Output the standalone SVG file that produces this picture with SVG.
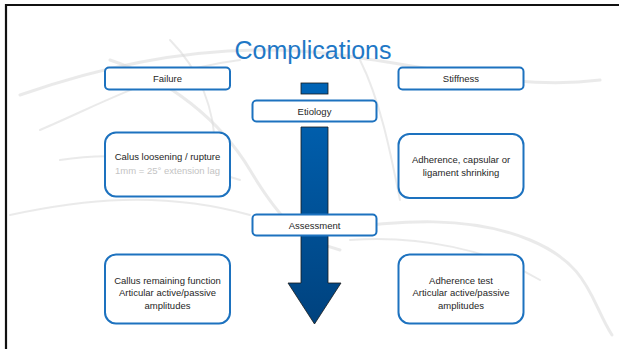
<svg xmlns="http://www.w3.org/2000/svg" width="619" height="349" viewBox="0 0 619 349">
<defs>
<style>
.box{fill:#ffffff;stroke:#1d72bf;stroke-width:2}
.lbl{font-family:"Liberation Sans",Arial,sans-serif;font-size:9.5px;fill:#262626;text-anchor:middle}
.sub{fill:#c4c4c4}
.sk{fill:none;stroke:#d9d9d9;stroke-linecap:round;opacity:0.55}
</style>
<linearGradient id="ag" x1="0" y1="83" x2="0" y2="324" gradientUnits="userSpaceOnUse">
<stop offset="0" stop-color="#0064b6"/>
<stop offset="1" stop-color="#00427e"/>
</linearGradient>
</defs>
<rect width="619" height="349" fill="#ffffff"/>
<g id="sketch">
<path class="sk" stroke-width="3" d="M20 95 C 120 60, 230 40, 340 55 S 520 90, 600 80"/>
<path class="sk" stroke-width="2" d="M40 130 C 110 100, 160 70, 240 60"/>
<path class="sk" stroke-width="3" d="M110 60 C 170 80, 220 120, 250 170 S 300 240, 340 250"/>
<path class="sk" stroke-width="2" d="M10 215 C 80 200, 160 190, 250 215"/>
<path class="sk" stroke-width="2" d="M60 160 C 120 150, 180 160, 240 180"/>
<path class="sk" stroke-width="3" d="M330 230 C 400 220, 470 215, 530 240 S 590 300, 612 335"/>
<path class="sk" stroke-width="2" d="M350 240 C 420 235, 490 250, 540 280"/>
<path class="sk" stroke-width="2" d="M360 60 C 380 100, 390 150, 400 200"/>
<path class="sk" stroke-width="2" d="M170 40 C 200 70, 215 110, 215 150"/>
</g>
<g id="frame">
<path d="M6 349 V5 H619" fill="none" stroke="#111111" stroke-width="2.2"/>
</g>
<g id="title">
<text x="313" y="59" font-family="'Liberation Sans',Arial,sans-serif" font-size="25" fill="#1f78c6" text-anchor="middle">Complications</text>
</g>
<g id="connectors">
<rect x="301" y="83" width="27" height="11" fill="url(#ag)" stroke="#1a1a1a" stroke-width="0.8"/>
<path d="M301 127 H328 V283 H341 L314.5 324 L288 283 H301 Z" fill="url(#ag)" stroke="#1a1a1a" stroke-width="0.8" stroke-linejoin="miter"/>
</g>
<g id="failure">
<rect class="box" x="105" y="67.5" width="125" height="22" rx="4"/>
<text class="lbl" x="167.5" y="82">Failure</text>
</g>
<g id="stiffness">
<rect class="box" x="398.5" y="67.5" width="125" height="22" rx="4"/>
<text class="lbl" x="461" y="82">Stiffness</text>
</g>
<g id="etiology">
<rect class="box" x="252.5" y="100.5" width="124" height="21" rx="4"/>
<text class="lbl" x="314.5" y="114.5">Etiology</text>
</g>
<g id="assessment">
<rect class="box" x="252.5" y="214.5" width="124" height="21" rx="4"/>
<text class="lbl" x="314.5" y="228.5">Assessment</text>
</g>
<g id="failure-etiology">
<rect class="box" x="105" y="132.5" width="125" height="64" rx="11"/>
<text class="lbl" x="167.5" y="160">Calus loosening / rupture</text>
<text class="lbl sub" x="167.5" y="173.5">1mm = 25° extension lag</text>
</g>
<g id="stiffness-etiology">
<rect class="box" x="398.5" y="134" width="125" height="64" rx="11"/>
<text class="lbl" x="461" y="162.5">Adherence, capsular or</text>
<text class="lbl" x="461" y="175.5">ligament shrinking</text>
</g>
<g id="failure-assessment">
<rect class="box" x="105" y="254.5" width="125" height="69" rx="11"/>
<text class="lbl" x="167.5" y="283.5">Callus remaining function</text>
<text class="lbl" x="167.5" y="296">Articular active/passive</text>
<text class="lbl" x="167.5" y="308.5">amplitudes</text>
</g>
<g id="stiffness-assessment">
<rect class="box" x="398.5" y="254.5" width="125" height="69" rx="11"/>
<text class="lbl" x="461" y="283.5">Adherence test</text>
<text class="lbl" x="461" y="296">Articular active/passive</text>
<text class="lbl" x="461" y="308.5">amplitudes</text>
</g>
</svg>
